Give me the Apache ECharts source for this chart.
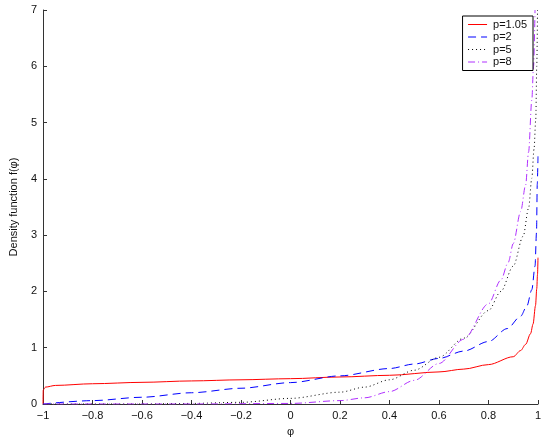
<!DOCTYPE html>
<html>
<head>
<meta charset="utf-8">
<script src="https://cdn.jsdelivr.net/npm/echarts@6/dist/echarts.min.js"></script>
<style>
  html, body { margin: 0; padding: 0; background: #fff; }
  #chart { width: 545px; height: 442px; }
</style>
</head>
<body>
<div id="chart"></div>
<script>
// values
var phiRed = [-1, -0.999, -0.99, -0.95, -0.8, -0.6, -0.4, -0.2, 0, 0.2, 0.4, 0.6, 0.7, 0.8, 0.9, 0.93, 0.95, 0.97, 0.98, 0.99, 0.995, 0.998, 1];
var fRed   = [0, 0.25, 0.3, 0.33, 0.36, 0.385, 0.41, 0.43, 0.45, 0.48, 0.51, 0.57, 0.62, 0.7, 0.84, 0.95, 1.06, 1.25, 1.42, 1.75, 2.05, 2.3, 2.6];

var phiBlue = [-1, -0.8, -0.6, -0.4, -0.2, 0, 0.2, 0.4, 0.5, 0.6, 0.7, 0.8, 0.876, 0.93, 0.955, 0.975, 0.988, 0.994, 0.997, 1];
var fBlue   = [0, 0.06, 0.12, 0.2, 0.28, 0.38, 0.5, 0.63, 0.71, 0.81, 0.94, 1.11, 1.34, 1.56, 1.74, 2.03, 2.45, 3.05, 3.9, 4.4];

var phiBlack = [-1, -0.6, -0.4, -0.2, 0, 0.2, 0.3, 0.4, 0.5, 0.6, 0.7, 0.8, 0.85, 0.9, 0.94, 0.962, 0.975, 0.984, 0.991, 0.995, 0.998];
var fBlack   = [0, 0, 0.01, 0.03, 0.1, 0.21, 0.3, 0.43, 0.6, 0.83, 1.17, 1.66, 2.0, 2.45, 2.98, 3.48, 4.01, 4.53, 5.06, 6.0, 7.0];

var phiMag = [-1, -0.4, 0, 0.2, 0.3, 0.4, 0.5, 0.6, 0.7, 0.8, 0.85, 0.88, 0.9, 0.93, 0.95, 0.962, 0.975, 0.982, 0.988];
var fMag   = [0, 0, 0.01, 0.06, 0.11, 0.22, 0.42, 0.72, 1.15, 1.78, 2.2, 2.52, 2.85, 3.42, 3.89, 4.48, 5.4, 6.0, 7.0];

var seriesNames = ['p=1.05', 'p=2', 'p=5', 'p=8'];
var xTicks = [-1, 1, 0.2];   // min, max, step
var yTicks = [0, 7, 1];

function pairs(xs, ys) {
  return xs.map(function (x, i) { return [x, ys[i]]; });
}

function fmt(v) {
  var s = (Math.round(v * 10) / 10).toString();
  return s.replace('-', '\u2212');
}

var font = 'Liberation Sans, Arial, Helvetica, sans-serif';
var axisColor = '#333333';

var chart = echarts.init(document.getElementById('chart'));
var option = {
  animation: false,
  backgroundColor: '#ffffff',
  grid: { left: 33, right: 7, top: 10, bottom: 34 },
  legend: {
    orient: 'vertical',
    right: 12,
    top: 16,
    data: seriesNames,
    itemWidth: 19,
    itemHeight: 12,
    itemGap: 1.5,
    padding: [3, 6, 3, 5],
    borderColor: '#000',
    borderWidth: 1,
    backgroundColor: '#fff',
    itemStyle: { opacity: 0 },
    lineStyle: { width: 1 },
    textStyle: { fontFamily: font, fontSize: 11, color: '#111', padding: [0, 0, 0, 1] }
  },
  xAxis: {
    type: 'value',
    min: xTicks[0], max: xTicks[1], interval: xTicks[2],
    name: '\u03c6',
    nameLocation: 'middle',
    nameGap: 22,
    nameTextStyle: { fontFamily: font, fontSize: 11, color: '#111' },
    axisLine: { onZero: false, lineStyle: { color: axisColor, width: 1 } },
    axisTick: { inside: true, length: 4, lineStyle: { color: axisColor } },
    axisLabel: { fontFamily: font, fontSize: 11, color: '#111', margin: 6, formatter: fmt },
    splitLine: { show: false }
  },
  yAxis: {
    type: 'value',
    min: yTicks[0], max: yTicks[1], interval: yTicks[2],
    name: 'Density function f(\u03c6)',
    nameLocation: 'middle',
    nameGap: 24,
    nameTextStyle: { fontFamily: font, fontSize: 11, color: '#111' },
    axisLine: { show: true, onZero: false, lineStyle: { color: axisColor, width: 1 } },
    axisTick: { show: true, inside: true, length: 4, lineStyle: { color: axisColor } },
    axisLabel: { fontFamily: font, fontSize: 11, color: '#111', margin: 6 },
    splitLine: { show: false }
  },
  series: [
    {
      name: seriesNames[0], type: 'line', data: pairs(phiRed, fRed),
      symbol: 'none', smooth: 0.3, smoothMonotone: 'x',
      lineStyle: { color: '#ff0000', width: 1 }, itemStyle: { color: '#ff0000' }
    },
    {
      name: seriesNames[1], type: 'line', data: pairs(phiBlue, fBlue),
      symbol: 'none', smooth: 0.3, smoothMonotone: 'x',
      lineStyle: { color: '#0000ff', width: 1, type: [8, 5] }, itemStyle: { color: '#0000ff' }
    },
    {
      name: seriesNames[2], type: 'line', data: pairs(phiBlack, fBlack),
      symbol: 'none', smooth: 0.3, smoothMonotone: 'x',
      lineStyle: { color: '#000000', width: 1, type: [1, 3] }, itemStyle: { color: '#000000' }
    },
    {
      name: seriesNames[3], type: 'line', data: pairs(phiMag, fMag),
      symbol: 'none', smooth: 0.3, smoothMonotone: 'x',
      lineStyle: { color: '#b030ff', width: 1, type: [7, 3, 1, 3] }, itemStyle: { color: '#b030ff' }
    }
  ]
};
chart.setOption(option);
</script>
</body>
</html>
